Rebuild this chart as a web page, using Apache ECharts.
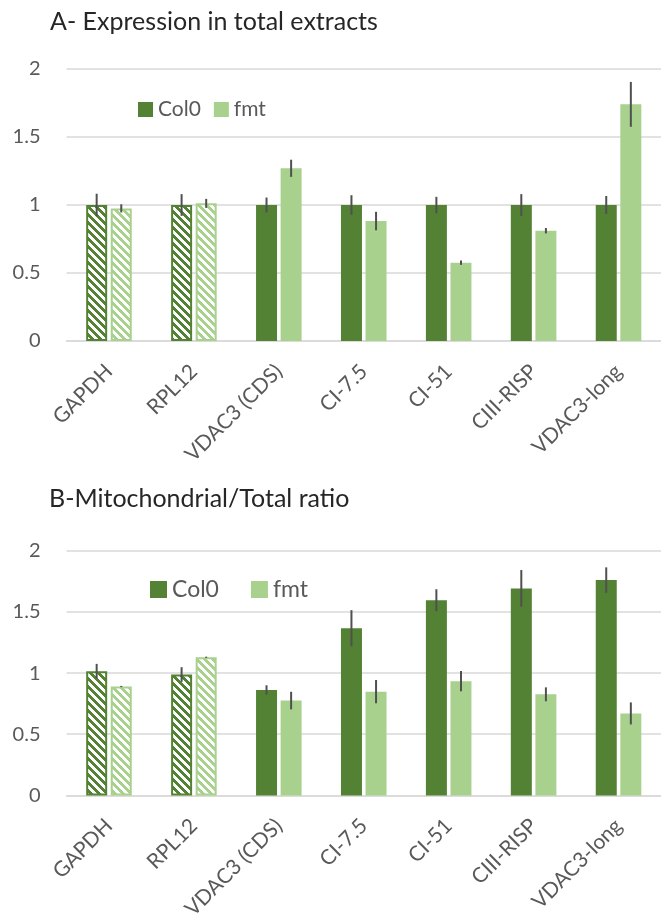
<!DOCTYPE html>
<html>
<head>
<meta charset="utf-8">
<script src="https://cdn.jsdelivr.net/npm/echarts@6/dist/echarts.min.js"></script>
<style>
html,body{margin:0;padding:0;background:#fff;}
#chart{width:661px;height:922px;}
</style>
</head>
<body>
<div id="chart"></div>
<script>
// ---- data ----
const categories = ['GAPDH', 'RPL12', 'VDAC3 (CDS)', 'CI-7.5', 'CI-51', 'CIII-RISP', 'VDAC3-long'];
const yTicks = [0, 0.5, 1, 1.5, 2];
const seriesNames = ['Col0', 'fmt'];

// Panel A: expression in total extracts
const aCol0 = [1.00, 1.00, 1.00, 1.00, 1.00, 1.00, 1.00];
const aCol0Err = [0.083, 0.080, 0.055, 0.072, 0.060, 0.080, 0.066];
const aFmt = [0.975, 1.012, 1.27, 0.882, 0.576, 0.811, 1.74];
const aFmtErr = [0.030, 0.033, 0.063, 0.068, 0.016, 0.020, 0.165];

// Panel B: mitochondrial / total ratio
const bCol0 = [1.015, 0.988, 0.862, 1.366, 1.595, 1.692, 1.76];
const bCol0Err = [0.060, 0.060, 0.038, 0.148, 0.090, 0.150, 0.104];
const bFmt = [0.89, 1.129, 0.775, 0.848, 0.934, 0.826, 0.67];
const bFmtErr = [0.005, 0.005, 0.072, 0.095, 0.083, 0.057, 0.090];

const hatchedCount = 2; // first categories drawn hatched (reference genes)

// ---- styles ----
const DARK = '#548235';
const LIGHT = '#A9D18E';
const GRID = '#D9D9D9';
const TXT = '#595959';
const FONT = 'Lato, "Liberation Sans", sans-serif';

function makeHatch(color) {
  const s = 8;
  const c = document.createElement('canvas');
  c.width = s; c.height = s;
  const ctx = c.getContext('2d');
  ctx.fillStyle = '#ffffff';
  ctx.fillRect(0, 0, s, s);
  ctx.fillStyle = color;
  for (let y = 0; y < s; y++) {
    for (let x = 0; x < s; x++) {
      if ((((x - y) % s) + s) % s < 4) ctx.fillRect(x, y, 1, 1);
    }
  }
  return c;
}
const hatchDark = makeHatch(DARK);
const hatchLight = makeHatch(LIGHT);

function barData(values, color, hatch) {
  return values.map((v, i) => {
    if (i < hatchedCount) {
      return {
        value: v,
        itemStyle: {
          color: { image: hatch, repeat: 'repeat' },
          borderColor: color,
          borderWidth: 2
        }
      };
    }
    return { value: v };
  });
}

function errData(values, errs) {
  return values.map((v, i) => [i, v, errs[i]]);
}

function errSeries(name, values, errs, gi, offset) {
  return {
    type: 'custom',
    name: name,
    xAxisIndex: gi,
    yAxisIndex: gi,
    z: 10,
    silent: true,
    data: errData(values, errs),
    renderItem: function (params, api) {
      const i = api.value(0), v = api.value(1), e = api.value(2);
      const lo = api.coord([i, v - e]);
      const hi = api.coord([i, v + e]);
      return {
        type: 'line',
        shape: { x1: lo[0] + offset, y1: lo[1], x2: hi[0] + offset, y2: hi[1] },
        style: { stroke: '#505050', lineWidth: 2 }
      };
    }
  };
}

const BW = 21;
const OFF = 12.3;

function xAxis(gi) {
  return {
    type: 'category',
    gridIndex: gi,
    data: categories,
    axisTick: { show: false },
    axisLine: { show: true, lineStyle: { color: GRID, width: 1.5 } },
    axisLabel: {
      rotate: 45,
      margin: 27,
      interval: 0,
      color: TXT,
      fontFamily: FONT,
      fontSize: 21
    }
  };
}
function yAxis(gi) {
  return {
    type: 'value',
    gridIndex: gi,
    min: yTicks[0],
    max: yTicks[yTicks.length - 1],
    interval: 0.5,
    axisLine: { show: false },
    axisTick: { show: false },
    splitLine: { lineStyle: { color: GRID, width: 1.5 } },
    axisLabel: {
      margin: 26,
      color: TXT,
      fontFamily: FONT,
      fontSize: 20,
      formatter: v => String(v)
    }
  };
}

const chart = echarts.init(document.getElementById('chart'), null, { renderer: 'canvas' });
chart.setOption({
  animation: false,
  backgroundColor: '#ffffff',
  title: [
    { text: 'A- Expression in total extracts', left: 45, top: 4,
      textStyle: { fontFamily: FONT, fontSize: 25, fontWeight: 'normal', color: '#262626' } },
    { text: 'B-Mitochondrial/Total ratio', left: 44, top: 481,
      textStyle: { fontFamily: FONT, fontSize: 25, fontWeight: 'normal', color: '#262626' } }
  ],
  legend: [
    { data: seriesNames, left: 133, top: 94, itemWidth: 15, itemHeight: 15, itemGap: 13,
      icon: 'rect', textStyle: { fontFamily: FONT, fontSize: 21, color: TXT } },
    { data: seriesNames, left: 145, top: 573, itemWidth: 17, itemHeight: 17, itemGap: 32,
      icon: 'rect', textStyle: { fontFamily: FONT, fontSize: 23, color: TXT } }
  ],
  grid: [
    { left: 66.5, right: -9, top: 69, height: 272 },
    { left: 66.5, right: -9, top: 550.7, height: 247 }
  ],
  xAxis: [xAxis(0), xAxis(1)],
  yAxis: [yAxis(0), yAxis(1)],
  series: [
    { type: 'bar', name: 'Col0', xAxisIndex: 0, yAxisIndex: 0, barWidth: BW, barGap: '17%',
      itemStyle: { color: DARK }, data: barData(aCol0, DARK, hatchDark) },
    { type: 'bar', name: 'fmt', xAxisIndex: 0, yAxisIndex: 0, barWidth: BW, barGap: '17%',
      itemStyle: { color: LIGHT }, data: barData(aFmt, LIGHT, hatchLight) },
    { type: 'bar', name: 'Col0', xAxisIndex: 1, yAxisIndex: 1, barWidth: BW, barGap: '17%',
      itemStyle: { color: DARK }, data: barData(bCol0, DARK, hatchDark) },
    { type: 'bar', name: 'fmt', xAxisIndex: 1, yAxisIndex: 1, barWidth: BW, barGap: '17%',
      itemStyle: { color: LIGHT }, data: barData(bFmt, LIGHT, hatchLight) },
    errSeries('errA0', aCol0, aCol0Err, 0, -OFF),
    errSeries('errA1', aFmt, aFmtErr, 0, OFF),
    errSeries('errB0', bCol0, bCol0Err, 1, -OFF),
    errSeries('errB1', bFmt, bFmtErr, 1, OFF)
  ]
});
</script>
</body>
</html>
